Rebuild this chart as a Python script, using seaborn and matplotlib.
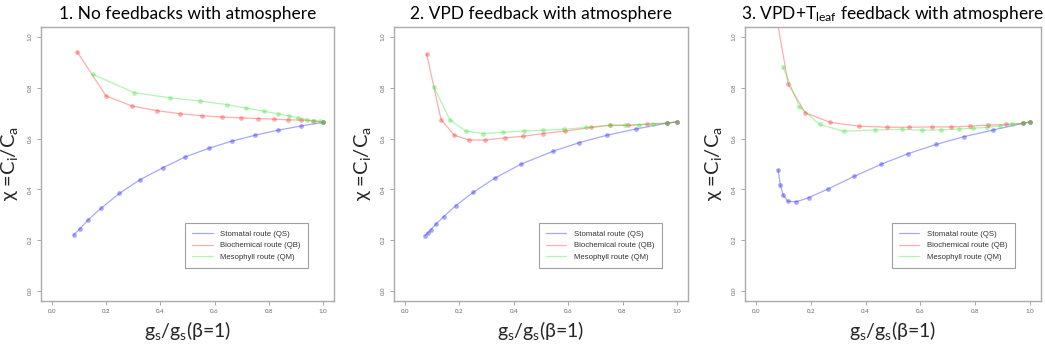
import numpy as np
import pandas as pd
import matplotlib
matplotlib.use("Agg")
import matplotlib.pyplot as plt
from matplotlib.lines import Line2D
import seaborn as sns

# panel 1 - no feedbacks
p1_qs_x = [0.080, 0.103, 0.134, 0.183, 0.249, 0.325, 0.409, 0.492, 0.579, 0.663, 0.748, 0.833, 0.920, 1.0]
p1_qs_y = [0.220, 0.244, 0.280, 0.327, 0.384, 0.438, 0.485, 0.528, 0.562, 0.590, 0.613, 0.633, 0.650, 0.664]
p1_qb_x = [0.093, 0.200, 0.297, 0.389, 0.474, 0.555, 0.628, 0.696, 0.761, 0.818, 0.870, 0.920, 0.962, 1.0]
p1_qb_y = [0.943, 0.768, 0.728, 0.710, 0.698, 0.690, 0.685, 0.682, 0.679, 0.677, 0.674, 0.673, 0.670, 0.665]
p1_qm_x = [0.150, 0.304, 0.436, 0.548, 0.647, 0.717, 0.782, 0.833, 0.875, 0.908, 0.939, 0.966, 0.988, 1.0]
p1_qm_y = [0.854, 0.781, 0.761, 0.748, 0.734, 0.720, 0.708, 0.698, 0.689, 0.681, 0.675, 0.670, 0.668, 0.665]

# panel 2 - VPD feedback
p2_qs_x = [0.074, 0.084, 0.096, 0.113, 0.143, 0.187, 0.251, 0.330, 0.428, 0.544, 0.640, 0.741, 0.849, 0.963, 1.0]
p2_qs_y = [0.218, 0.228, 0.241, 0.262, 0.293, 0.336, 0.388, 0.444, 0.500, 0.550, 0.584, 0.613, 0.638, 0.661, 0.666]
p2_qb_x = [0.080, 0.133, 0.182, 0.236, 0.295, 0.367, 0.433, 0.508, 0.590, 0.685, 0.754, 0.820, 0.891, 0.963, 1.0]
p2_qb_y = [0.934, 0.675, 0.613, 0.595, 0.594, 0.603, 0.609, 0.620, 0.630, 0.644, 0.652, 0.652, 0.657, 0.661, 0.666]
p2_qm_x = [0.106, 0.166, 0.224, 0.286, 0.359, 0.436, 0.508, 0.584, 0.667, 0.754, 0.808, 0.859, 0.910, 0.963, 1.0]
p2_qm_y = [0.805, 0.673, 0.630, 0.620, 0.625, 0.630, 0.633, 0.637, 0.644, 0.654, 0.654, 0.654, 0.658, 0.661, 0.666]

# panel 3 - VPD + Tleaf feedback
p3_qs_x = [0.081, 0.089, 0.100, 0.117, 0.147, 0.192, 0.264, 0.358, 0.457, 0.556, 0.657, 0.760, 0.866, 0.973, 1.0]
p3_qs_y = [0.478, 0.416, 0.376, 0.353, 0.351, 0.367, 0.402, 0.451, 0.499, 0.541, 0.577, 0.608, 0.634, 0.660, 0.666]
p3_qb_x = [0.075, 0.118, 0.180, 0.271, 0.375, 0.477, 0.560, 0.642, 0.713, 0.781, 0.848, 0.911, 0.973, 1.0]
p3_qb_y = [1.080, 0.814, 0.702, 0.664, 0.649, 0.645, 0.645, 0.646, 0.646, 0.649, 0.653, 0.656, 0.660, 0.666]
p3_qm_x = [0.099, 0.158, 0.232, 0.320, 0.433, 0.532, 0.607, 0.675, 0.741, 0.792, 0.842, 0.891, 0.933, 0.973, 1.0]
p3_qm_y = [0.882, 0.726, 0.656, 0.629, 0.634, 0.637, 0.633, 0.634, 0.638, 0.641, 0.644, 0.650, 0.656, 0.660, 0.666]

routes = ["Stomatal route (QS)", "Biochemical route (QB)", "Mesophyll route (QM)"]
farben = [(0.15, 0.15, 1.0, 0.4), (1.0, 0.2, 0.2, 0.4), (0.25, 0.9, 0.25, 0.4)]

titles = ["1. No feedbacks with atmosphere",
          "2. VPD feedback with atmosphere",
          r"3. VPD+T$_\mathregular{leaf}$ feedback with atmosphere"]

panels = [
    [(p1_qs_x, p1_qs_y), (p1_qb_x, p1_qb_y), (p1_qm_x, p1_qm_y)],
    [(p2_qs_x, p2_qs_y), (p2_qb_x, p2_qb_y), (p2_qm_x, p2_qm_y)],
    [(p3_qs_x, p3_qs_y), (p3_qb_x, p3_qb_y), (p3_qm_x, p3_qm_y)],
]

sns.set_theme(style="white")
plt.rcParams["font.family"] = ["Lato", "DejaVu Sans"]
plt.rcParams["mathtext.fontset"] = "custom"
plt.rcParams["mathtext.rm"] = "Lato"
plt.rcParams["mathtext.it"] = "Lato"

fig = plt.figure(figsize=(10.45, 3.46), dpi=100)
rects = [[0.0392, 0.1301, 0.2804, 0.7919],
         [0.3770, 0.1301, 0.2813, 0.7919],
         [0.7129, 0.1301, 0.2833, 0.7919]]

for i, rect in enumerate(rects):
    ax = fig.add_axes(rect)
    # long format fuer seaborn
    teile = []
    for name, (xs, ys) in zip(routes, panels[i]):
        teile.append(pd.DataFrame({"gs": xs, "chi": ys, "route": name}))
    df = pd.concat(teile, ignore_index=True)
    sns.lineplot(data=df, x="gs", y="chi", hue="route", palette=dict(zip(routes, farben)),
                 sort=False, estimator=None, units="route", marker="o", markersize=3.4,
                 markeredgewidth=0, linewidth=0.9, legend=False, ax=ax)
    ax.set_xlim(-0.04, 1.04)
    ax.set_ylim(-0.04, 1.04)
    ticks = [0.0, 0.2, 0.4, 0.6, 0.8, 1.0]
    ax.set_xticks(ticks)
    ax.set_yticks(ticks)
    ax.set_xticklabels([f"{t:.1f}" for t in ticks])
    ax.set_yticklabels([f"{t:.1f}" for t in ticks], rotation=90, va="center")
    ax.tick_params(axis="both", which="both", length=3, width=0.6, color="#999999",
                   labelsize=4.4, labelcolor="#666666", pad=3, direction="out",
                   bottom=True, left=True)
    for s in ax.spines.values():
        s.set_color("#aaaaaa")
        s.set_linewidth(1.0)
    ax.set_title(titles[i], fontsize=12.5, pad=6, color="black")
    ax.set_xlabel(r"g$_\mathregular{s}$/g$_\mathregular{s}$($\mathregular{\beta}$=1)", fontsize=14)
    ax.set_ylabel(r"χ =C$_\mathregular{i}$/C$_\mathregular{a}$", fontsize=14.5)
    ax.xaxis.set_label_coords(0.5, -0.065)
    ax.yaxis.set_label_coords(-0.07, 0.5)
    handles = [Line2D([0], [0], color=c, lw=0.9) for c in farben]
    leg = ax.legend(handles, routes, loc="lower right", bbox_to_anchor=(0.911, 0.12),
                    fontsize=5.6, frameon=True, fancybox=False, handlelength=2.6,
                    handletextpad=1.0, labelspacing=0.55, borderpad=0.9, borderaxespad=0)
    leg.get_frame().set_edgecolor("#888888")
    leg.get_frame().set_linewidth(0.8)
    for t in leg.get_texts():
        t.set_fontfamily(["Liberation Sans", "DejaVu Sans"])
        t.set_color("#333333")

fig.savefig("out.png", dpi=100)
